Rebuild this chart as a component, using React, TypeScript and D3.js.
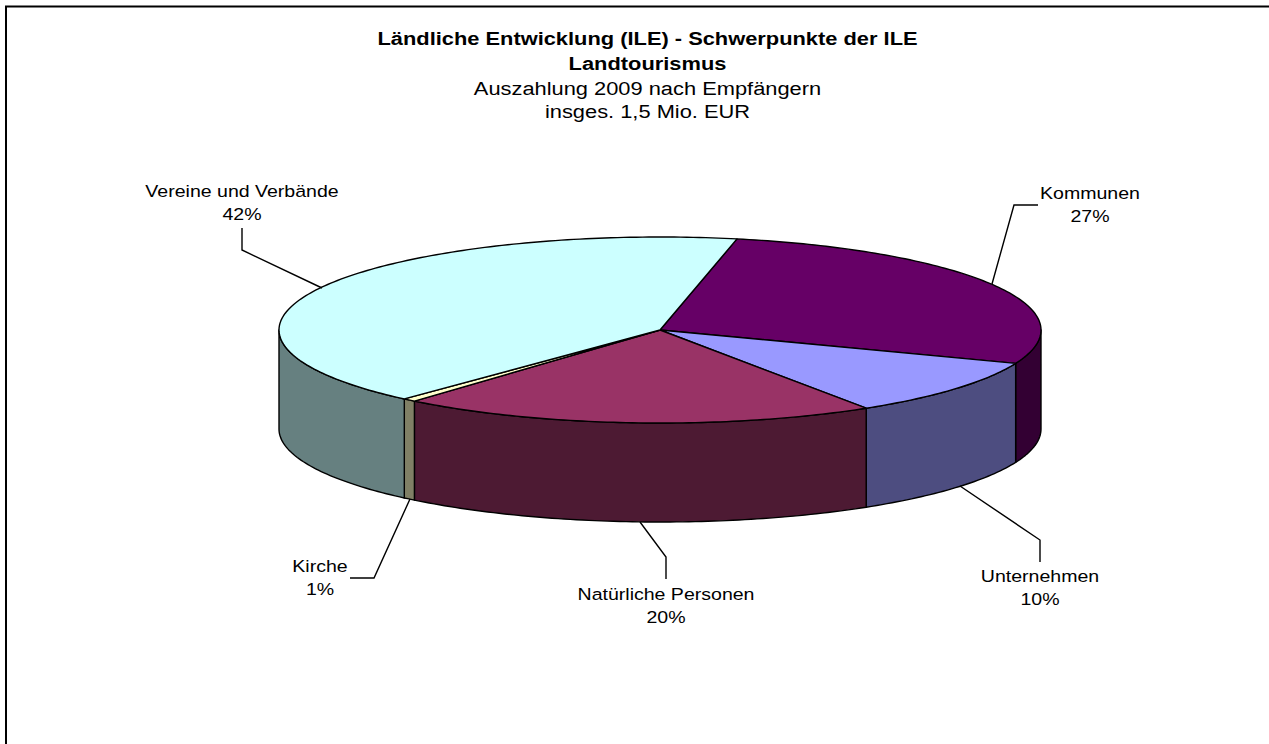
import React from "react";
import * as d3 from "d3";

const categories = ["Kommunen", "Unternehmen", "Natürliche Personen", "Kirche", "Vereine und Verbände"];
const shares = [27.6, 10.06, 20.25, 0.56, 41.53];
const percentLabels = ["27%", "10%", "20%", "1%", "42%"];
const topColors = ["#660066", "#9999FF", "#993366", "#FFFFCC", "#CCFFFF"];
const wallColors = ["#330033", "#4D4D80", "#4D1A33", "#808066", "#668080"];
const titleLines = [
  { text: "Ländliche Entwicklung (ILE) - Schwerpunkte der ILE", bold: true },
  { text: "Landtourismus", bold: true },
  { text: "Auszahlung 2009 nach Empfängern", bold: false },
  { text: "insges. 1,5 Mio. EUR", bold: false },
];

const W = 1269, H = 744;
const cx = 660, cy = 330, rx = 381, ry = 93, depth = 99;
const FONT = "'Liberation Sans', Arial, sans-serif";
const STRETCH = 1.15;
const titleBaselines = [45, 70, 95, 118];

// per-slice label layout, same order as categories
const labelAt = [
  { x: 1090, y: 199 },
  { x: 1040, y: 582 },
  { x: 666, y: 600 },
  { x: 320, y: 572 },
  { x: 242, y: 197 },
];
const leaders = [
  [[992, 284], [1014, 205], [1038, 205]],
  [[960, 486], [1040, 540], [1040, 562]],
  [[640, 522], [666, 557], [666, 579]],
  [[410, 499], [374, 578], [350, 578]],
  [[322, 288], [242, 250], [242, 228]],
];

const startDeg = 11.66;
const pie = d3.pie<number>().sort(null).value((d) => d)
  .startAngle((startDeg * Math.PI) / 180)
  .endAngle(((startDeg + 360) * Math.PI) / 180);
const arcs = pie(shares);

const px = (a: number) => cx + rx * Math.sin(a);
const py = (a: number) => cy - ry * Math.cos(a);
const line = d3.line<number[]>().x((d) => d[0]).y((d) => d[1]);

function sample(a0: number, a1: number): number[] {
  const n = Math.max(2, Math.ceil(Math.abs(a1 - a0) * 60));
  return d3.range(n + 1).map((i) => a0 + ((a1 - a0) * i) / n);
}

function topPath(a0: number, a1: number) {
  const pts: number[][] = [[cx, cy], ...sample(a0, a1).map((a) => [px(a), py(a)])];
  return line(pts) + "Z";
}

function wallPath(a0: number, a1: number) {
  const lo = Math.max(a0, Math.PI / 2);
  const hi = Math.min(a1, (3 * Math.PI) / 2);
  if (hi <= lo) return null;
  const s = sample(lo, hi);
  const pts: number[][] = [
    ...s.map((a) => [px(a), py(a)]),
    ...s.slice().reverse().map((a) => [px(a), py(a) + depth]),
  ];
  return line(pts) + "Z";
}

export default function App() {
  return (
    <svg width={W} height={H} viewBox={`0 0 ${W} ${H}`}
      style={{ position: "absolute", left: 0, top: 0, background: "#fff" }} fontFamily={FONT}>
      <path d={`M6,${H}V6.5H${W}`} fill="none" stroke="#000" strokeWidth={2} />
      {titleLines.map((t, i) => (
        <text key={t.text} transform={`translate(647.5,${titleBaselines[i]}) scale(${STRETCH},1)`}
          textAnchor="middle" fontSize={19} fontWeight={t.bold ? 700 : 400} fill="#000">{t.text}</text>
      ))}
      {arcs.map((d, i) => {
        const p = wallPath(d.startAngle, d.endAngle);
        return p ? <path key={"w" + i} d={p} fill={wallColors[i]} stroke="#000" strokeWidth={1.4} strokeLinejoin="round" /> : null;
      })}
      {arcs.map((d, i) => (
        <path key={"t" + i} d={topPath(d.startAngle, d.endAngle)} fill={topColors[i]} stroke="#000" strokeWidth={1.4} strokeLinejoin="round" />
      ))}
      {leaders.map((l, i) => (
        <path key={"l" + i} d={line(l) || ""} fill="none" stroke="#000" strokeWidth={1.4} />
      ))}
      {categories.map((c, i) => (
        <g key={c} transform={`translate(${labelAt[i].x},${labelAt[i].y}) scale(${STRETCH},1)`}>
          <text textAnchor="middle" fontSize={17} fill="#000">{c}</text>
          <text y={23} textAnchor="middle" fontSize={17} fill="#000">{percentLabels[i]}</text>
        </g>
      ))}
    </svg>
  );
}
